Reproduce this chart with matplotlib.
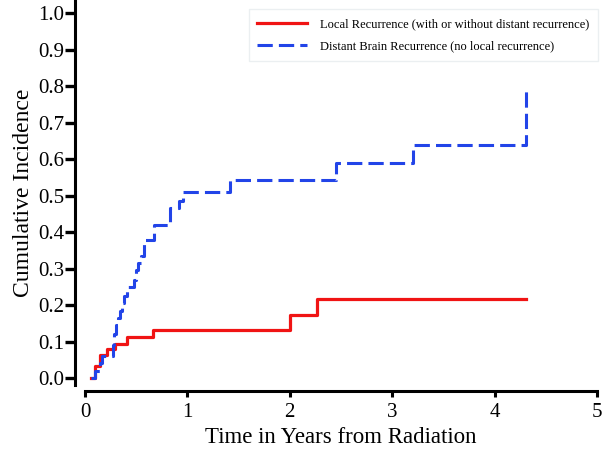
import matplotlib
matplotlib.use('Agg')
import matplotlib.pyplot as plt

plt.rcParams['font.family'] = ['Liberation Serif', 'DejaVu Serif']

# Local recurrence (step function, value after each event)
local_t = [0.06, 0.10, 0.15, 0.21, 0.29, 0.41, 0.66, 2.00, 2.27, 4.31]
local_y = [0.0, 0.034, 0.063, 0.08, 0.094, 0.112, 0.133, 0.174, 0.216, 0.216]

# Distant brain recurrence
distant_t = [0.055, 0.10, 0.15, 0.17, 0.27, 0.28, 0.30, 0.32, 0.34, 0.36, 0.38,
             0.41, 0.48, 0.50, 0.52, 0.55, 0.58, 0.67, 0.83, 0.92, 0.96,
             1.42, 2.45, 3.20, 4.31]
distant_y = [0.0, 0.02, 0.04, 0.06, 0.09, 0.12, 0.145, 0.165, 0.185, 0.205, 0.225,
             0.25, 0.27, 0.295, 0.315, 0.335, 0.378, 0.42, 0.465, 0.485, 0.51,
             0.542, 0.59, 0.64, 0.787]

xticks = [0, 1, 2, 3, 4, 5]
yticks = [0.0, 0.1, 0.2, 0.3, 0.4, 0.5, 0.6, 0.7, 0.8, 0.9, 1.0]

fig = plt.figure(figsize=(6.13, 4.53), dpi=100)
ax = fig.add_axes([85/613, 68/453, 512/613, 385/453])

ax.step(local_t, local_y, where='post', color='#f01414', lw=2.3,
        label='Local Recurrence (with or without distant recurrence)')
ax.step(distant_t, distant_y, where='post', color='#2244e8', lw=2.2,
        dashes=(5, 2), label='Distant Brain Recurrence (no local recurrence)')

ax.set_xlim(0, 5)
ax.set_ylim(-0.019, 1.036)
ax.set_xticks(xticks)
ax.set_xticklabels([str(t) for t in xticks])
ax.set_yticks(yticks)
ax.set_yticklabels(['%.1f' % t for t in yticks])

for s in ['top', 'right']:
    ax.spines[s].set_visible(False)
ax.spines['left'].set_position(('outward', 7.2))
ax.spines['bottom'].set_position(('outward', 4.3))
ax.spines['left'].set_linewidth(2.2)
ax.spines['bottom'].set_linewidth(2.2)
ax.tick_params(axis='y', direction='out', length=7, width=2.4, labelsize=15, pad=1)
ax.tick_params(axis='x', direction='out', length=4.5, width=2.2, labelsize=15, pad=4)

ax.set_xlabel('Time in Years from Radiation', fontsize=16.5, labelpad=4)
ax.set_ylabel('Cumulative Incidence', fontsize=17, labelpad=3)

leg = ax.legend(loc='upper right', bbox_to_anchor=(604/613, 1 - 3/453),
                bbox_transform=fig.transFigure, fontsize=9, frameon=True,
                fancybox=False, edgecolor='#e6ecee', handlelength=4.0,
                handletextpad=1.0, labelspacing=0.85, borderpad=0.7)
leg.get_frame().set_linewidth(1.0)

fig.savefig('out.png', dpi=100)
